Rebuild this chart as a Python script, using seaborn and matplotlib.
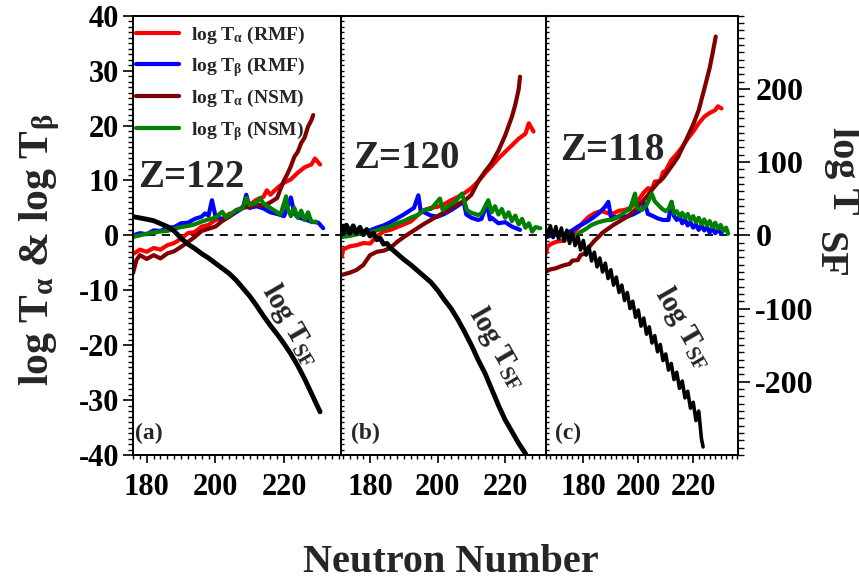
import matplotlib
matplotlib.use('Agg')
import numpy as np
import pandas as pd
import matplotlib.pyplot as plt
import seaborn as sns
from matplotlib.ticker import MultipleLocator

# ---- data (log T in left-axis units, log T_SF in right-axis units) ----
# panel (a) Z=122
red_a_n = [176, 178, 180, 182, 184, 186, 188, 190, 192, 194, 196, 198, 200, 202, 204, 206, 208, 210, 212, 214, 215, 216, 218, 220, 222, 224, 226, 228, 229, 230.5]
red_a = [-3.4, -2.6, -3.0, -2.3, -2.6, -1.8, -1.4, -0.6, 0.4, 0.6, 1.6, 1.9, 2.8, 3.0, 3.9, 4.3, 5.2, 5.6, 6.5, 7.0, 8.2, 7.4, 8.6, 9.6, 10.2, 11.4, 12.4, 12.9, 14.0, 12.9]
blue_a_n = [176, 178, 180, 182, 184, 186, 188, 190, 192, 194, 196, 197, 198, 199, 200, 202, 204, 206, 208, 209, 210, 212, 214, 216, 218, 220, 222, 223, 224, 226, 228, 230, 231.4]
blue_a = [0.0, 0.4, 0.2, 0.9, 0.8, 1.4, 1.5, 2.2, 2.3, 3.0, 3.4, 4.0, 3.6, 6.4, 3.6, 2.9, 3.4, 4.2, 5.0, 7.4, 5.0, 5.3, 4.9, 4.2, 3.9, 3.5, 6.9, 4.0, 3.3, 2.9, 2.5, 2.3, 1.3]
darkred_a_n = [176, 177, 178, 180, 182, 184, 186, 188, 190, 192, 194, 196, 198, 200, 202, 204, 206, 208, 210, 212, 214, 216, 218, 219, 220, 221, 222, 223, 224, 225, 226, 227, 228, 228.5]
darkred_a = [-6.9, -4.5, -3.6, -4.3, -3.6, -4.2, -3.3, -2.9, -2.1, -1.2, -0.3, 0.8, 1.2, 1.6, 2.6, 3.4, 4.5, 5.0, 5.2, 5.6, 5.4, 6.0, 6.8, 8.5, 10.0, 11.2, 12.6, 14.3, 15.2, 16.8, 17.8, 19.8, 21.0, 21.9]
green_a_n = [176, 178, 180, 182, 184, 186, 188, 190, 192, 194, 196, 198, 200, 202, 203, 204, 206, 208, 209, 210, 212, 213, 214, 216, 218, 219, 220.6, 221, 222, 223, 224, 225, 226, 227, 228, 229.4]
green_a = [-0.3, 0.0, 0.3, 0.5, 0.7, 0.8, 1.2, 1.5, 1.7, 2.0, 2.5, 2.9, 3.2, 4.3, 3.3, 3.6, 4.6, 5.0, 6.8, 5.5, 6.0, 6.8, 5.8, 5.0, 4.2, 3.8, 7.1, 5.0, 3.5, 5.0, 3.2, 4.5, 2.8, 4.2, 2.4, 2.5]
sf_a_n = [176, 180, 182, 184, 186, 188, 190, 192, 194, 196, 198, 200, 202, 204, 206, 208, 210, 212, 214, 216, 218, 220, 222, 224, 226, 228, 229, 230.5]
sf_a = [25.6, 22, 20, 16, 12, 6, -4, -12, -18, -25, -31, -38, -45, -52, -61, -72, -83, -96, -110, -123, -135, -148, -162, -178, -196, -216, -226, -241]

# panel (b) Z=120
red_b_n = [171.6, 172, 174, 176, 178, 180, 182, 184, 186, 188, 190, 192, 194, 196, 198, 200, 202, 204, 206, 208, 210, 212, 214, 216, 218, 220, 222, 224, 226, 227, 228.4]
red_b = [-3.9, -2.6, -2.0, -1.8, -1.4, -1.5, -0.2, 0.7, 1.0, 1.5, 2.0, 2.5, 3.6, 4.6, 5.0, 5.2, 5.7, 6.4, 7.0, 7.7, 8.6, 9.8, 11.3, 12.6, 14.0, 15.2, 16.4, 17.6, 18.5, 20.4, 18.9]
blue_b_n = [171.6, 174, 176, 178, 180, 182, 184, 186, 188, 190, 192, 193, 194.3, 195, 196, 198, 200, 202, 204, 206, 207.7, 208.5, 210, 212, 213, 214.6, 215.5, 216, 218, 220, 222, 224.4]
blue_b = [0.0, 0.3, 0.2, 0.7, 0.9, 1.4, 1.8, 2.4, 3.1, 3.8, 4.6, 5.0, 7.3, 4.4, 4.2, 3.6, 3.4, 3.9, 4.6, 5.4, 6.1, 3.8, 3.2, 2.8, 3.0, 5.8, 2.9, 3.2, 2.2, 2.4, 1.6, 1.0]
darkred_b_n = [171.6, 174, 176, 178, 179, 180, 182, 184, 186, 188, 190, 192, 194, 196, 198, 200, 202, 204, 206, 208, 210, 212, 214, 216, 218, 220, 222, 223, 224, 224.4]
darkred_b = [-7.2, -6.8, -6.3, -5.4, -4.5, -3.6, -3.0, -2.8, -2.3, -1.2, -0.3, 0.5, 1.3, 2.1, 2.8, 3.5, 4.2, 5.0, 5.7, 6.3, 7.4, 9.8, 11.6, 13.2, 15.4, 18.2, 21.6, 23.8, 26.6, 28.9]
green_b_n = [171.6, 174, 176, 178, 180, 182, 184, 186, 188, 190, 192, 194, 196, 198, 200.7, 201.5, 203, 205, 207.2, 208.7, 210, 212, 213, 215, 216, 217, 218, 219, 220, 221, 222, 223, 224, 225, 226, 227, 228, 229, 230.4]
green_b = [-0.3, -0.1, 0.2, 0.4, 0.6, 0.9, 1.3, 1.6, 2.2, 2.6, 3.2, 3.7, 4.6, 4.8, 6.7, 4.6, 5.3, 6.0, 7.6, 4.6, 4.1, 3.7, 4.0, 6.4, 4.2, 5.3, 3.8, 4.8, 3.2, 4.2, 2.6, 3.6, 2.0, 3.0, 1.4, 2.2, 0.7, 1.5, 1.3]
sf_b_n = [171.6, 172, 173, 174, 175, 176, 177, 178, 179, 180, 181, 182, 183, 184, 185, 186, 188, 190, 192, 194, 196, 198, 200, 202, 204, 206, 208, 210, 212, 214, 216, 218, 220, 222, 224, 226, 227.5]
sf_b = [12, 2, 14, 3, 13, 3, 11, 1, 8, -1, 3, -6, -4, -12, -11, -17, -25, -33, -40, -48, -56, -64, -75, -88, -100, -115, -132, -150, -170, -188, -210, -232, -252, -268, -284, -298, -312]

# panel (c) Z=118
red_c_n = [166.4, 167, 168.5, 170, 172, 173.3, 175, 176, 178, 180, 182, 184, 185.5, 187, 189, 191, 193, 195, 197, 199, 200, 202, 203.6, 205, 206, 208, 209, 210, 212, 214, 216, 218, 220, 222, 224, 226, 228, 229, 230.3]
red_c = [-3.3, -2.0, -1.5, -1.2, -1.0, -0.9, -0.2, 0.2, 1.3, 2.4, 3.4, 4.0, 4.3, 4.4, 4.0, 4.0, 4.5, 4.6, 5.0, 5.9, 6.4, 7.8, 8.6, 8.4, 9.8, 9.9, 11.5, 11.8, 13.7, 14.8, 16.1, 17.6, 18.9, 20.4, 21.6, 22.3, 22.8, 23.5, 23.1]
blue_c_n = [166.4, 168, 170, 172, 174, 176, 178, 180, 182, 184, 186, 187.9, 189.1, 190, 192, 194, 196, 198, 200, 201.5, 202.4, 203.5, 205, 207, 209, 211, 212.1, 213, 214, 215, 216, 217, 218, 219, 220, 221, 222, 223, 224, 225, 226, 227, 228, 229, 230.3]
blue_c = [-0.3, -0.1, 0.1, 0.2, 0.4, 0.9, 1.6, 2.1, 2.7, 3.4, 4.2, 5.2, 6.1, 3.4, 3.3, 3.5, 3.4, 3.8, 4.3, 4.8, 5.8, 3.9, 3.6, 3.1, 2.8, 2.8, 6.1, 3.5, 2.8, 3.4, 2.2, 2.9, 1.8, 2.4, 1.4, 2.0, 1.0, 1.8, 0.9, 1.5, 0.5, 1.3, 0.4, 1.0, 0.3]
darkred_c_n = [166.4, 168, 170, 172, 173.3, 175, 176, 178, 179, 180.6, 182, 184, 185.5, 187, 189, 191, 193, 195, 197, 199, 201, 203, 205, 207, 209, 211, 213, 214.5, 216, 218, 220, 222, 224, 226, 227, 228.2]
darkred_c = [-6.6, -6.2, -6.0, -5.6, -5.4, -5.2, -4.6, -4.5, -3.6, -3.3, -2.2, -1.0, -0.3, 0.5, 1.2, 1.9, 2.5, 3.1, 3.8, 4.7, 5.9, 7.0, 8.3, 9.5, 10.4, 11.8, 13.2, 14.3, 15.9, 18.0, 20.2, 22.8, 26.6, 30.5, 33.0, 36.2]
green_c_n = [177.6, 179, 181, 183, 185, 187, 189, 190.3, 192, 194, 195.2, 197, 198.8, 199.5, 201.2, 203, 204.9, 206, 208.5, 210, 211, 212.1, 213, 214, 215, 216, 217, 218, 219, 220, 221, 222, 223, 224, 225, 226, 227, 228, 229, 230, 231, 232, 232.7]
green_c = [0.0, 0.6, 1.2, 1.9, 2.3, 2.6, 2.8, 2.8, 3.2, 3.8, 4.3, 4.8, 7.6, 5.0, 4.6, 5.5, 7.6, 6.2, 4.9, 4.4, 4.8, 6.1, 4.0, 4.4, 3.5, 4.1, 3.2, 3.9, 2.8, 3.5, 2.4, 3.2, 2.0, 2.9, 1.8, 2.6, 1.5, 2.3, 1.2, 1.9, 0.8, 1.4, 0.3]
sf_c_n = [166, 167, 168, 169, 170, 171, 172, 173, 174, 175, 176, 177, 178, 179, 180, 181, 182, 183, 184, 185,
          186, 187, 188, 189, 190, 191, 192, 193, 194, 195, 196, 197, 198, 199, 200, 201, 202, 203, 204, 205,
          206, 207, 208, 209, 210, 211, 212, 213, 214, 215, 216, 217, 218, 219, 220, 221, 222, 223, 223.6]
sf_c = [14, -2, 13, -3, 12, -5, 10, -8, 7, -11, 4, -14, -1, -20, -7, -27, -15, -35, -23, -43,
        -31, -50, -38, -59, -47, -68, -57, -78, -68, -89, -78, -100, -90, -112, -102, -124, -113, -135, -125, -147,
        -137, -159, -149, -171, -162, -184, -175, -197, -187, -209, -199, -222, -213, -236, -228, -253, -240, -278, -289]

z_labels = ['Z=122', 'Z=120', 'Z=118']
panel_tags = ['(a)', '(b)', '(c)']
series_labels = ['log T$_{\\mathrm{α}}$ (RMF)', 'log T$_{\\mathrm{β}}$ (RMF)',
                 'log T$_{\\mathrm{α}}$ (NSM)', 'log T$_{\\mathrm{β}}$ (NSM)']
series_colors = ['#ff0000', '#0000ff', '#800000', '#008000']

# ---- style ----
sns.set_style('ticks')
plt.rcParams['font.family'] = ['Liberation Serif', 'DejaVu Serif']
plt.rcParams['font.weight'] = 'bold'
plt.rcParams['mathtext.fontset'] = 'custom'
plt.rcParams['mathtext.rm'] = 'Liberation Serif'
plt.rcParams['mathtext.bf'] = 'Liberation Serif:bold'
plt.rcParams['mathtext.it'] = 'Liberation Serif:italic'
plt.rcParams['axes.unicode_minus'] = False
plt.rcParams['axes.edgecolor'] = 'black'
plt.rcParams['xtick.color'] = 'black'
plt.rcParams['ytick.color'] = 'black'

fig = plt.figure(figsize=(8.59, 5.85), dpi=100)
W, H = 859, 585
edges = [133, 341, 545.7, 738]
axes = [fig.add_axes([edges[i] / W, 1 - 455 / H, (edges[i + 1] - edges[i]) / W, (455 - 15.7) / H])
        for i in range(3)]
xlims = [(176, 236.6), (171.4, 232), (166.3, 236.3)]

panels = [
    ([(red_a_n, red_a), (blue_a_n, blue_a), (darkred_a_n, darkred_a), (green_a_n, green_a)], (sf_a_n, sf_a)),
    ([(red_b_n, red_b), (blue_b_n, blue_b), (darkred_b_n, darkred_b), (green_b_n, green_b)], (sf_b_n, sf_b)),
    ([(red_c_n, red_c), (blue_c_n, blue_c), (darkred_c_n, darkred_c), (green_c_n, green_c)], (sf_c_n, sf_c)),
]
z_pos = [(177.4, 8.85), (175.1, 12.2), (171.5, 13.7)]
sf_text_pos = [(222, -16.3), (217.9, -20.4), (216.4, -16.8)]
sf_widths = [3.5, 3.5, 2.6]

for i, (ax, (curves, sf)) in enumerate(zip(axes, panels)):
    ax.axhline(0, color='black', lw=1.3, ls=(0, (4.5, 3.5)), zorder=1)
    for (n, v), lab, col in zip(curves, series_labels, series_colors):
        sns.lineplot(x=n, y=v, ax=ax, color=col, lw=3.0, sort=False, estimator=None,
                     label=lab if i == 0 else None)
    tw = ax.twinx()
    sns.lineplot(x=sf[0], y=sf[1], ax=tw, color='black', lw=sf_widths[i], sort=False, estimator=None)
    tw.set_ylim(-300, 300)
    ax.set_xlim(*xlims[i])
    ax.set_ylim(-40, 40)
    ax.set_xlabel('')
    ax.set_ylabel('')
    tw.set_ylabel('')

    ax.set_xticks([180, 200, 220])
    ax.xaxis.set_minor_locator(MultipleLocator(2))
    ax.yaxis.set_major_locator(MultipleLocator(10))
    ax.yaxis.set_minor_locator(MultipleLocator(1))
    ax.tick_params(axis='x', which='major', direction='out', length=6, width=1.2, labelsize=22, pad=7)
    ax.tick_params(axis='x', which='minor', direction='out', length=3, width=1.0)
    if i == 0:
        ax.tick_params(axis='y', which='major', direction='out', length=7, width=1.2, labelsize=22, pad=3)
        ax.tick_params(axis='y', which='minor', direction='out', length=3.6, width=1.0)
    else:
        ax.tick_params(axis='y', which='both', direction='in', length=2.5, width=1.0, labelleft=False)
    for sp in ax.spines.values():
        sp.set_linewidth(1.4)
        sp.set_color('black')

    for sp in tw.spines.values():
        sp.set_visible(False)
    if i == 2:
        tw.spines['right'].set_visible(True)
        tw.spines['right'].set_linewidth(1.4)
        tw.set_yticks([-200, -100, 0, 100, 200])
        tw.yaxis.set_minor_locator(MultipleLocator(10))
        tw.tick_params(axis='y', which='major', direction='out', length=8.5, width=1.2, labelsize=23, pad=4)
        tw.tick_params(axis='y', which='minor', direction='out', length=4, width=1.0)
    else:
        tw.set_yticks([])
        tw.tick_params(axis='y', which='both', right=False, labelright=False)

    ax.text(z_pos[i][0], z_pos[i][1], z_labels[i], fontsize=28, fontweight='bold', va='baseline')
    ax.text(0.012 if i == 0 else 0.05, 0.025, panel_tags[i], transform=ax.transAxes,
            fontsize=17, fontweight='bold', va='bottom')
    ax.text(sf_text_pos[i][0], sf_text_pos[i][1], 'log T$_{\\mathrm{SF}}$', rotation=-60,
            ha='center', va='center', fontsize=21, fontweight='bold', zorder=5)

handles, labels = axes[0].get_legend_handles_labels()
axes[0].legend(handles, labels, loc='upper left', bbox_to_anchor=(0.015, 0.98), frameon=False,
               prop={'weight': 'bold', 'size': 14}, handlelength=2.2, handletextpad=0.6,
               labelspacing=0.48, borderpad=0, borderaxespad=0)

fig.text(451 / W, 1 - 563 / H, 'Neutron Number', ha='center', va='center', fontsize=29, fontweight='bold')
fig.text(40 / W, 1 - 250 / H, 'log T$_{\\mathbf{α}}$ & log T$_{\\mathbf{β}}$', rotation=90,
         ha='center', va='center', fontsize=30, fontweight='bold')
fig.text(842 / W, 1 - 170.5 / H, 'log T', rotation=-90, ha='center', va='center', fontsize=29, fontweight='bold')
fig.text(828 / W, 1 - 255 / H, 'SF', rotation=-90, ha='center', va='center', fontsize=29, fontweight='bold')

fig.savefig('out.png', dpi=100)
